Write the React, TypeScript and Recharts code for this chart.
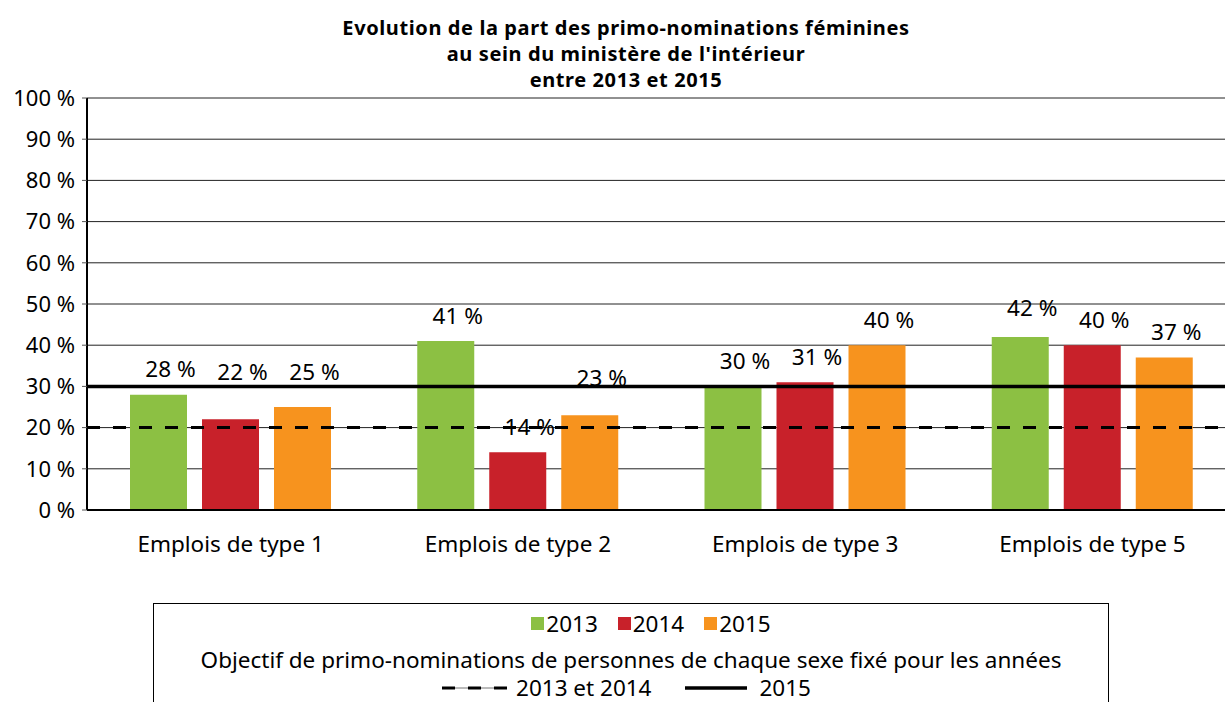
import React from 'react';
import {
  BarChart,
  Bar,
  XAxis,
  YAxis,
  CartesianGrid,
  ReferenceLine,
  Legend,
  LabelList,
} from 'recharts';

const CATEGORIES = ['Emplois de type 1', 'Emplois de type 2', 'Emplois de type 3', 'Emplois de type 5'];
const SHARE_2013 = [28, 41, 30, 42];
const SHARE_2014 = [22, 14, 31, 40];
const SHARE_2015 = [25, 23, 40, 37];
const Y_TICKS = [0, 10, 20, 30, 40, 50, 60, 70, 80, 90, 100];

// objectives (percent)
const TARGET_2013_2014 = 20;
const TARGET_2015 = 30;

const SERIES = [
  { key: 'y2013', name: '2013', color: '#8CC043' },
  { key: 'y2014', name: '2014', color: '#C8212A' },
  { key: 'y2015', name: '2015', color: '#F7931E' },
];

// some labels are lifted a bit more so they clear the objective lines
const LABEL_LIFT: Record<string, number[]> = {
  y2013: [0, 0, 0, 3],
  y2014: [22, 0, 0, 0],
  y2015: [10, 12, 0, 0],
};

const FONT = '"Noto Sans", sans-serif';

const data = CATEGORIES.map((name, i) => ({
  name,
  y2013: SHARE_2013[i],
  y2014: SHARE_2014[i],
  y2015: SHARE_2015[i],
}));

const makeLabel = (key: string) => (props: any) => {
  const { x, y, width, value, index } = props;
  const lift = LABEL_LIFT[key][index] || 0;
  return (
    <text
      x={x + width / 2 + 12}
      y={y - 26 - lift}
      textAnchor="middle"
      dominantBaseline="central"
      fontSize={22.5}
      fontFamily={FONT}
      fill="#000"
    >
      {`${value} %`}
    </text>
  );
};

const LegendBox = () => (
  <div
    style={{
      boxSizing: 'border-box',
      width: 956,
      height: 110,
      border: '1.5px solid #000',
      fontFamily: FONT,
      fontSize: 22.5,
      color: '#000',
    }}
  >
    <div
      style={{
        display: 'flex',
        justifyContent: 'center',
        alignItems: 'center',
        height: 39,
        paddingLeft: 40,
      }}
    >
      {SERIES.map((s, i) => (
        <div
          key={s.key}
          style={{ display: 'flex', alignItems: 'center', marginRight: i < SERIES.length - 1 ? 20 : 0 }}
        >
          <span style={{ width: 13, height: 13, background: s.color, marginRight: 2 }} />
          <span>{s.name}</span>
        </div>
      ))}
    </div>
    <div
      style={{
        textAlign: 'center',
        height: 30,
        lineHeight: '30px',
        whiteSpace: 'nowrap',
        marginTop: 2,
      }}
    >
      Objectif de primo-nominations de personnes de chaque sexe fixé pour les années
    </div>
    <div
      style={{
        display: 'flex',
        justifyContent: 'center',
        alignItems: 'center',
        height: 26,
        lineHeight: '22px',
        paddingRight: 9,
      }}
    >
      <svg width={65} height={8} style={{ marginRight: 9 }}>
        <line x1={0} y1={4} x2={65} y2={4} stroke="#777" strokeWidth={1} />
        <line x1={0} y1={4} x2={65} y2={4} stroke="#000" strokeWidth={3} strokeDasharray="13 13" />
      </svg>
      <span style={{ marginRight: 33 }}>2013 et 2014</span>
      <svg width={62} height={8} style={{ marginRight: 13 }}>
        <line x1={0} y1={4} x2={62} y2={4} stroke="#000" strokeWidth={3.5} />
      </svg>
      <span>2015</span>
    </div>
  </div>
);

export default function App() {
  return (
    <div
      style={{
        position: 'absolute',
        left: 0,
        top: 0,
        width: 1225,
        height: 702,
        overflow: 'hidden',
        background: '#fff',
        fontFamily: FONT,
      }}
    >
      <div
        style={{
          position: 'absolute',
          left: 226,
          top: 15,
          width: 800,
          textAlign: 'center',
          fontWeight: 'bold',
          fontSize: 20,
          letterSpacing: 0.6,
          lineHeight: '26px',
          color: '#000',
          zIndex: 2,
        }}
      >
        <div>Evolution de la part des primo-nominations féminines</div>
        <div>au sein du ministère de l'intérieur</div>
        <div>entre 2013 et 2015</div>
      </div>
      <BarChart
        width={1240}
        height={702}
        data={data}
        margin={{ top: 98, right: 4, left: 0, bottom: 152 }}
        barSize={57}
        barGap={15}
      >
        <CartesianGrid vertical={false} stroke="#222" strokeWidth={1} />
        <XAxis
          dataKey="name"
          height={40}
          tickSize={0}
          tickMargin={26}
          axisLine={{ stroke: '#000', strokeWidth: 2 }}
          tick={{ fill: '#000', fontSize: 22.5, fontFamily: FONT }}
          interval={0}
        />
        <YAxis
          width={87}
          domain={[0, 100]}
          ticks={Y_TICKS}
          tickFormatter={(v) => `${v} %`}
          tickSize={5}
          tickMargin={7}
          axisLine={{ stroke: '#000', strokeWidth: 2 }}
          tickLine={{ stroke: '#555' }}
          tick={{ fill: '#000', fontSize: 22, fontFamily: FONT }}
        />
        {SERIES.map((s) => (
          <Bar key={s.key} dataKey={s.key} name={s.name} fill={s.color} isAnimationActive={false}>
            <LabelList dataKey={s.key} content={makeLabel(s.key)} />
          </Bar>
        ))}
        <ReferenceLine
          y={TARGET_2013_2014}
          stroke="#000"
          strokeWidth={3}
          strokeDasharray="13 13"
        />
        <ReferenceLine y={TARGET_2015} stroke="#000" strokeWidth={3.5} />
        <Legend
          layout="horizontal"
          verticalAlign="middle"
          align="center"
          wrapperStyle={{ left: 153, top: 603, width: 956, height: 110 }}
          content={() => <LegendBox />}
        />
      </BarChart>
    </div>
  );
}
